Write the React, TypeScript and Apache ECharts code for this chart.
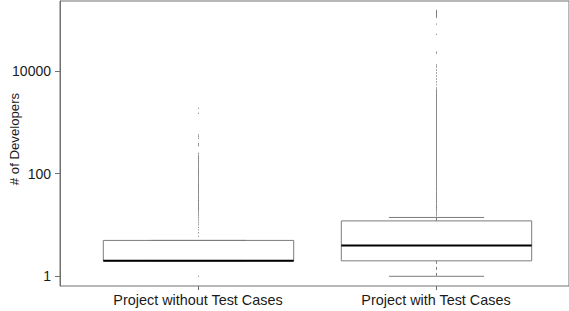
import React, { useEffect, useRef } from "react";
import * as echarts from "echarts";

const categories = ["Project without Test Cases", "Project with Test Cases"];
// [lower whisker, Q1, median, Q3, upper whisker]
const boxStats = [
  [2, 2, 2, 5, 5],
  [1, 2, 4, 12, 14],
];
const yTicks = [1, 100, 10000];
const yTitle = "# of Developers";

const withoutSparse = [1, 6, 7, 8, 9, 10, 11, 12, 13, 14, 15, 16, 17, 18, 19, 20, 21, 214, 231, 249, 350, 370, 390, 488, 525, 566, 1500, 1875];
const withoutDense = [22, 24, 26, 29, 31, 34, 37, 41, 45, 49, 54, 59, 64, 70, 77, 84, 92, 101, 110, 120, 132, 144, 158, 173, 189, 205];
const withSparse = [15, 16, 17, 18, 19, 20, 21, 22, 4660, 5340, 6100, 6980, 7980, 9140, 10450, 11960, 13090, 22400, 23400, 51800, 82200];
const withDense = [23, 25, 28, 30, 33, 36, 40, 43, 48, 52, 57, 62, 68, 75, 82, 89, 98, 107, 117, 128, 140, 153, 168, 183, 201, 219, 240, 263, 287, 314, 344, 376, 411, 450, 492, 538, 589, 644, 705, 771, 843, 922, 1009, 1104, 1208, 1320, 1440, 1570, 1720, 1880, 2050, 2240, 2450, 2680, 2930, 3200, 3500, 3830, 4190, 114000, 120000, 126000, 133000, 140000, 147000];

const Y_MIN = 0.647;
const Y_MAX = 231000;
const FONT = "'Liberation Sans', Arial, sans-serif";
const AXIS_COLOR = "#707070";
const BOX_COLOR = "#7c7c7c";
const TEXT_COLOR = "#1a1a1a";
const DOT_COLOR = "#777777";

export default function App() {
  const ref = useRef<HTMLDivElement>(null);
  useEffect(() => {
    if (!ref.current) return;
    const chart = echarts.init(ref.current, null, { renderer: "svg" });
    const pts = (idx: number, arr: number[]) => arr.map((v) => [idx, v]);
    chart.setOption({
      animation: false,
      backgroundColor: "#ffffff",
      textStyle: { fontFamily: FONT },
      grid: [
        { left: 60, top: 1, right: -5, bottom: 25, show: true, borderColor: AXIS_COLOR, borderWidth: 1, backgroundColor: "transparent" },
        { left: 79, top: 1, width: 476, bottom: 25, show: false },
      ],
      xAxis: [
        { gridIndex: 0, type: "value", min: 0, max: 1, show: false },
        {
          gridIndex: 1,
          type: "category",
          data: categories,
          boundaryGap: true,
          axisLine: { show: false },
          axisTick: { show: true, alignWithLabel: true, length: 4, lineStyle: { color: AXIS_COLOR } },
          axisLabel: { fontSize: 14.4, color: TEXT_COLOR, margin: 7, fontFamily: FONT },
          splitLine: { show: false },
        },
      ],
      yAxis: [
        {
          gridIndex: 0,
          type: "log",
          logBase: 10,
          min: Y_MIN,
          max: Y_MAX,
          axisLine: { show: true, lineStyle: { color: AXIS_COLOR } },
          axisTick: { show: true, length: 5, lineStyle: { color: AXIS_COLOR }, customValues: yTicks },
          axisLabel: { fontSize: 14, color: TEXT_COLOR, margin: 9, fontFamily: FONT, customValues: yTicks, formatter: (v: number) => String(Math.round(v)) },
          splitLine: { show: false },
          minorTick: { show: false },
        },
        { gridIndex: 1, type: "log", logBase: 10, min: Y_MIN, max: Y_MAX, show: false, splitLine: { show: false } },
      ],
      graphic: [
        {
          type: "text",
          x: 14,
          y: 139,
          rotation: Math.PI / 2,
          style: { text: yTitle, fontSize: 13.2, fill: TEXT_COLOR, align: "center", verticalAlign: "middle", fontFamily: FONT },
        },
      ],
      series: [
        {
          type: "scatter",
          xAxisIndex: 1,
          yAxisIndex: 1,
          symbol: "rect",
          symbolSize: [1, 1.3],
          symbolOffset: [0.5, 0],
          itemStyle: { color: DOT_COLOR },
          data: [...pts(0, withoutSparse), ...pts(1, withSparse)],
          silent: true,
        },
        {
          type: "scatter",
          xAxisIndex: 1,
          yAxisIndex: 1,
          symbol: "rect",
          symbolSize: [1, 2.6],
          symbolOffset: [0.5, 0],
          itemStyle: { color: DOT_COLOR },
          data: [...pts(0, withoutDense), ...pts(1, withDense)],
          silent: true,
        },
        {
          type: "custom",
          xAxisIndex: 1,
          yAxisIndex: 1,
          silent: true,
          encode: { x: 0, y: [1, 2, 3, 4, 5] },
          data: boxStats.map((s, i) => [i, ...s]),
          renderItem: (params: any, api: any) => {
            const idx = api.value(0);
            const low = api.coord([idx, api.value(1)]);
            const q1 = api.coord([idx, api.value(2)]);
            const med = api.coord([idx, api.value(3)]);
            const q3 = api.coord([idx, api.value(4)]);
            const high = api.coord([idx, api.value(5)]);
            const band = api.size([1, 1], [idx, 1])[0];
            const hw = band * 0.4;
            const cx = q1[0] + 0.5;
            return {
              type: "group",
              children: [
                { type: "line", shape: { x1: cx, y1: q3[1], x2: cx, y2: high[1] }, style: { stroke: BOX_COLOR, lineWidth: 1, lineDash: [3, 3] } },
                { type: "line", shape: { x1: cx, y1: q1[1], x2: cx, y2: low[1] }, style: { stroke: BOX_COLOR, lineWidth: 1, lineDash: [3, 3] } },
                { type: "line", shape: { x1: cx - hw / 2, y1: high[1], x2: cx + hw / 2, y2: high[1] }, style: { stroke: BOX_COLOR, lineWidth: 1 } },
                { type: "line", shape: { x1: cx - hw / 2, y1: low[1], x2: cx + hw / 2, y2: low[1] }, style: { stroke: BOX_COLOR, lineWidth: 1 } },
                { type: "rect", shape: { x: cx - hw, y: q3[1], width: 2 * hw, height: q1[1] - q3[1] }, style: { fill: "transparent", stroke: BOX_COLOR, lineWidth: 1 } },
                { type: "line", shape: { x1: cx - hw, y1: med[1], x2: cx + hw, y2: med[1] }, style: { stroke: "#000000", lineWidth: 2 } },
              ],
            };
          },
        },
      ],
    });
    return () => chart.dispose();
  }, []);
  return <div ref={ref} style={{ position: "fixed", left: 0, top: 0, width: 569, height: 311 }} />;
}
